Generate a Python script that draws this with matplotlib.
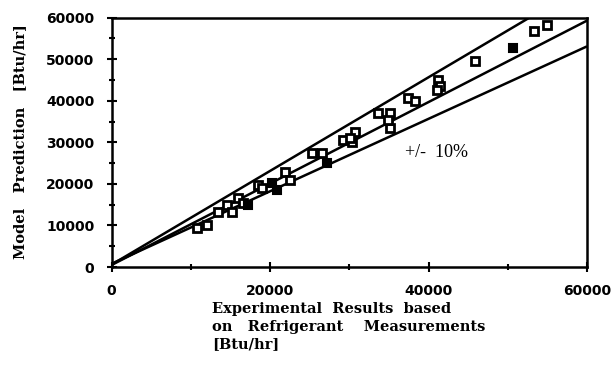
import matplotlib.pyplot as plt
from matplotlib.ticker import MultipleLocator

# measured (experimental) vs predicted capacity, Btu/hr
exp_open = [10770, 12040, 13470, 14520, 15160, 15990, 16620, 18520, 18940,
            21890, 22520, 25260, 26520, 29250, 30310, 30730, 30100,
            33670, 35150, 35150, 34900, 37460, 38310, 41250, 41460, 41050,
            45880, 53250, 54940]
pred_open = [9400, 10120, 13330, 14940, 13330, 16550, 15350, 19760, 18960,
             22970, 20970, 27400, 27400, 30600, 30200, 32600, 31000,
             37040, 37040, 33430, 35500, 40650, 39840, 45070, 43450, 42660,
             49480, 56700, 58320]
exp_fill = [17250, 20210, 20840, 27160, 50720]
pred_fill = [14940, 20170, 18560, 24990, 52700]

# reference lines (1:1 and +/- 10 %)
line_x = [0, 60000]
upper_y = [600, 68200]
middle_y = [500, 59300]
lower_y = [800, 53100]

fig = plt.figure(figsize=(6.15, 3.74), dpi=100)
ax = fig.add_axes([0.1816, 0.286, 0.7729, 0.6667])

for ly in (upper_y, middle_y, lower_y):
    ax.plot(line_x, ly, color='black', lw=1.8, solid_capstyle='butt')

ax.plot(exp_open, pred_open, 's', ms=6, mfc='white', mec='black', mew=2.0)
ax.plot(exp_fill, pred_fill, 's', ms=6, mfc='black', mec='black', mew=1.5)

ax.set_xlim(0, 60000)
ax.set_ylim(0, 60000)
ax.xaxis.set_major_locator(MultipleLocator(20000))
ax.xaxis.set_minor_locator(MultipleLocator(10000))
ax.yaxis.set_major_locator(MultipleLocator(10000))
ax.yaxis.set_minor_locator(MultipleLocator(5000))
ax.tick_params(which='both', direction='inout', width=1.5, top=False, right=False)
ax.tick_params(which='major', length=7)
ax.tick_params(which='minor', length=5)
ax.tick_params(axis='x', pad=9)
ax.tick_params(axis='y', pad=9)
for lab in ax.get_xticklabels() + ax.get_yticklabels():
    lab.set_fontweight('bold')
    lab.set_fontsize(10)
for s in ax.spines.values():
    s.set_linewidth(1.8)

ax.text(37000, 27500, '+/-  10%', fontsize=13, family='Liberation Serif', va='center')

fig.text(0.345, 0.193, 'Experimental  Results  based\non   Refrigerant    Measurements\n[Btu/hr]',
         fontsize=10.5, family='DejaVu Serif', fontweight='bold',
         ha='left', va='top', linespacing=1.35)
fig.text(0.033, 0.622, 'Model   Prediction   [Btu/hr]', rotation=90,
         fontsize=10.5, family='DejaVu Serif', fontweight='bold',
         ha='center', va='center')

fig.savefig('out.png', dpi=100)
